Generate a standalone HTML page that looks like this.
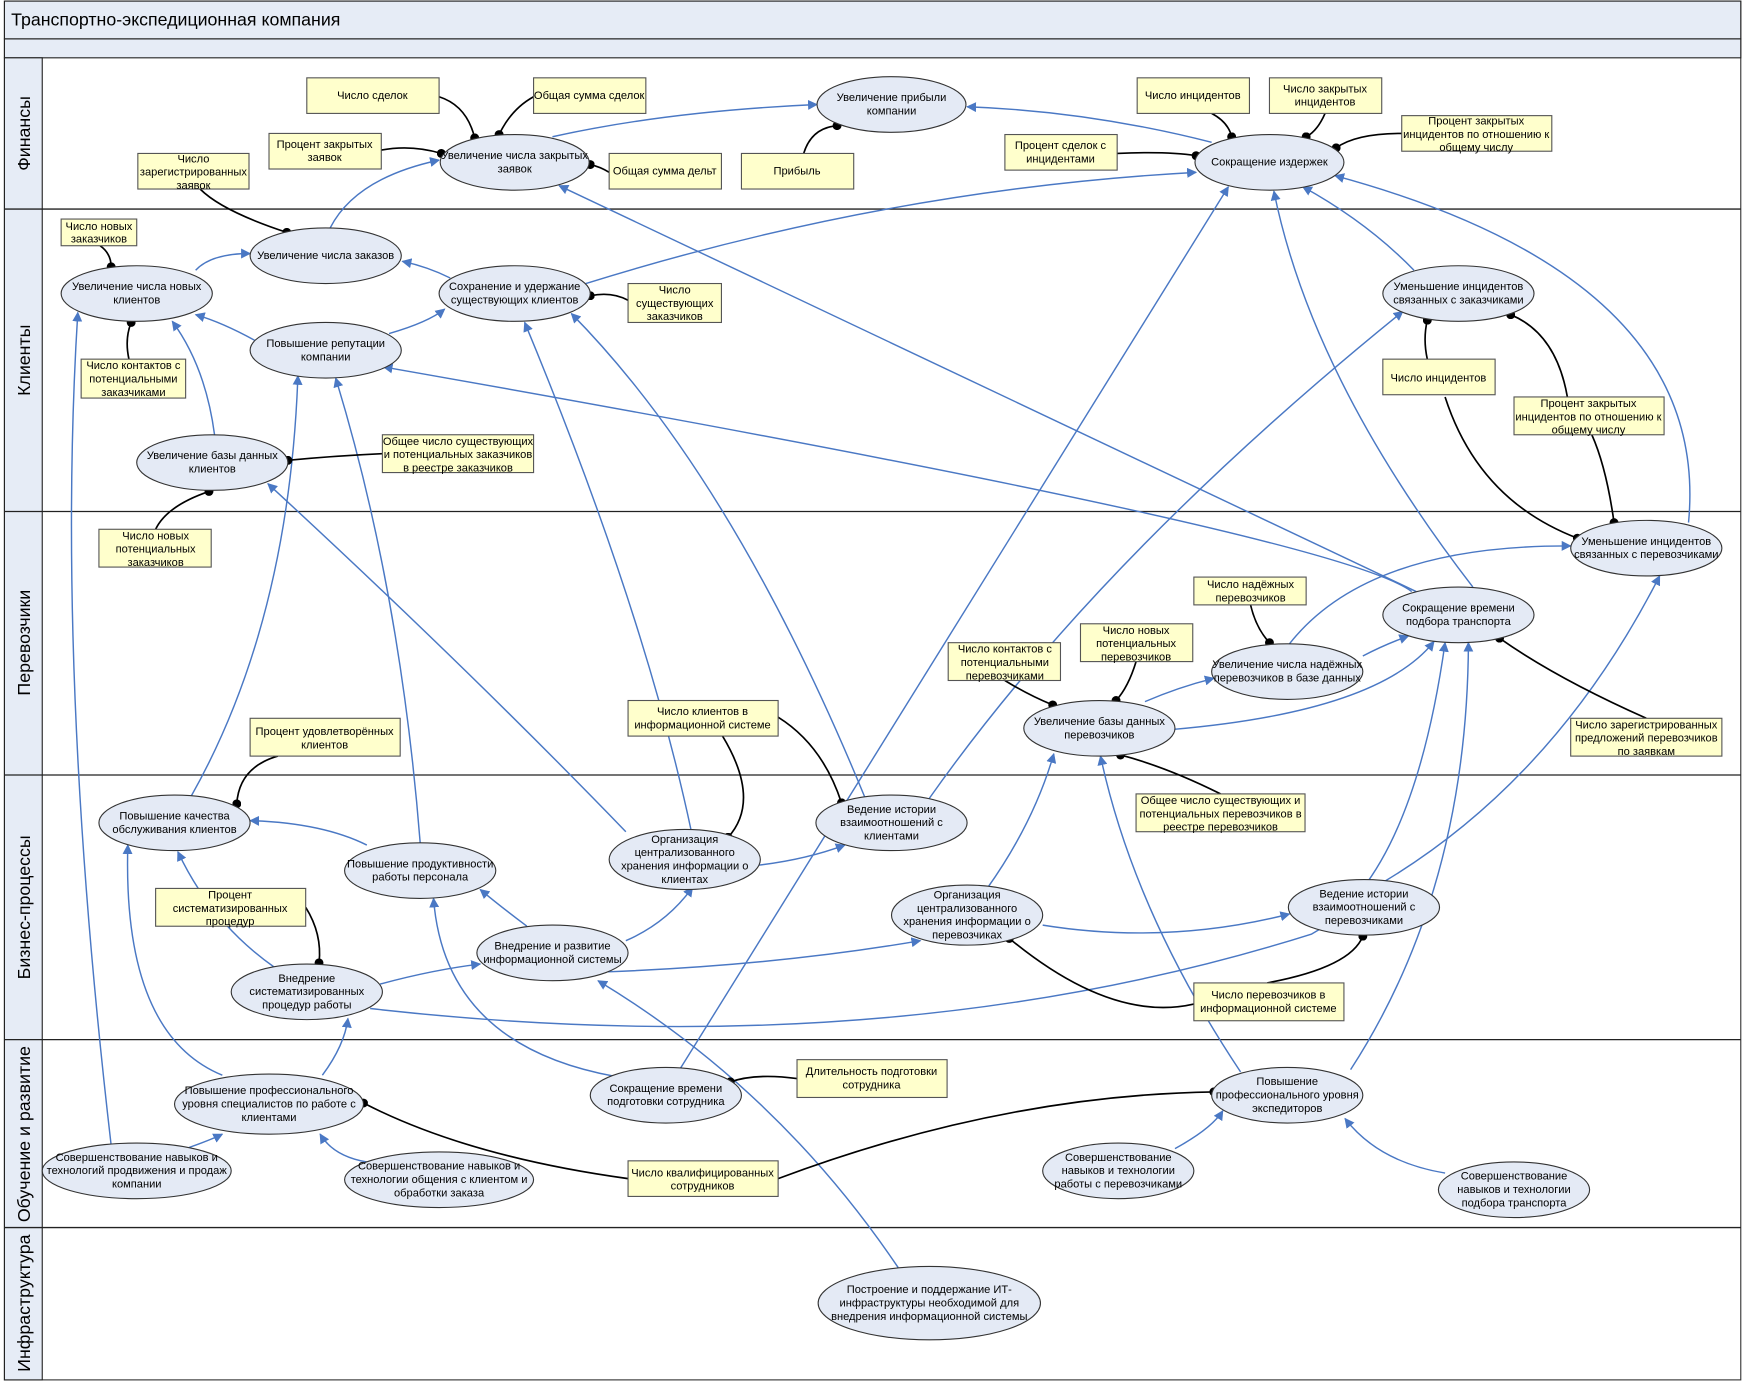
<!DOCTYPE html>
<html><head><meta charset="utf-8"><style>
html,body{margin:0;padding:0;background:#fff}
svg{display:block}
text{font-family:"Liberation Sans","DejaVu Sans",sans-serif;font-size:10px;fill:#000}
.e{fill:#e4eaf5;stroke:#333;stroke-width:1}
.b{fill:#ffffcc;stroke:#555;stroke-width:1}
.s{fill:#999}
.bl{fill:none;stroke:#4a78c4;stroke-width:1.3;marker-end:url(#ar)}
.k{fill:none;stroke:#000;stroke-width:1.5;marker-end:url(#dot)}
.ln{font-size:16px}
</style></head><body>
<svg width="1743" height="1381" viewBox="0 0 1568 1242" preserveAspectRatio="none" xmlns="http://www.w3.org/2000/svg">
<defs>
<marker id="ar" viewBox="0 0 10 10" refX="9" refY="5" markerWidth="9" markerHeight="9" markerUnits="userSpaceOnUse" orient="auto"><path d="M0,0L10,5L0,10z" fill="#4a78c4"/></marker>
<marker id="dot" viewBox="0 0 10 10" refX="5" refY="5" markerWidth="8" markerHeight="8" markerUnits="userSpaceOnUse"><circle cx="5" cy="5" r="5" fill="#000"/></marker>
</defs>
<rect x="4" y="1" width="1562" height="1240" fill="#fff" stroke="#333"/>
<rect x="4" y="1" width="1562" height="34" fill="#e6ecf6" stroke="#222"/>
<rect x="4" y="35" width="1562" height="17" fill="#e6ecf6" stroke="#222"/>
<text x="10" y="23" style="font-size:16px">Транспортно-экспедиционная компания</text>
<rect x="4" y="52" width="34" height="1189" fill="#e6ecf6" stroke="#222"/>
<g stroke="#222" stroke-width="1.2">
<line x1="4" y1="188" x2="1566" y2="188"/><line x1="4" y1="460" x2="1566" y2="460"/>
<line x1="4" y1="697" x2="1566" y2="697"/><line x1="4" y1="935" x2="1566" y2="935"/>
<line x1="4" y1="1104" x2="1566" y2="1104"/></g>
<g class="ln">
<text transform="translate(27,120) rotate(-90)" text-anchor="middle" style="font-size:16px">Финансы</text>
<text transform="translate(27,324) rotate(-90)" text-anchor="middle" style="font-size:16px">Клиенты</text>
<text transform="translate(27,578) rotate(-90)" text-anchor="middle" style="font-size:16px">Перевозчики</text>
<text transform="translate(27,816) rotate(-90)" text-anchor="middle" style="font-size:16px">Бизнес-процессы</text>
<text transform="translate(27,1020) rotate(-90)" text-anchor="middle" style="font-size:16px">Обучение и развитие</text>
<text transform="translate(27,1172) rotate(-90)" text-anchor="middle" style="font-size:16px">Инфраструктура</text>
</g>

<!-- blue arrows -->
<g>
<path class="bl" d="M297,205 Q320,160 395,144"/>
<path class="bl" d="M497,123 Q600,100 735,94"/>
<path class="bl" d="M176,243 Q190,228 225,228"/>
<path class="bl" d="M405,250 Q385,240 362,235"/>
<path class="bl" d="M229,306 Q200,290 176,283"/>
<path class="bl" d="M350,300 Q385,290 400,278"/>
<path class="bl" d="M193,391 Q185,330 155,289"/>
<path class="bl" d="M527,255 Q800,170 1076,155"/>
<path class="bl" d="M1090,128 Q980,100 870,96"/>
<path class="bl" d="M1274,532 L503,167"/>
<path class="bl" d="M1325,528 Q1180,340 1146,172"/>
<path class="bl" d="M1272,243 Q1230,200 1172,168"/>
<path class="bl" d="M1519,470 Q1540,250 1201,158"/>
<path class="bl" d="M1270,532 Q1200,480 345,330"/>
<path class="bl" d="M1160,579 Q1230,490 1413,491"/>
<path class="bl" d="M1226,590 Q1245,580 1267,572"/>
<path class="bl" d="M1055,656 Q1240,640 1290,577"/>
<path class="bl" d="M1030,631 Q1060,618 1092,610"/>
<path class="bl" d="M836,718 Q990,500 1262,280"/>
<path class="bl" d="M778,717 Q660,430 514,282"/>
<path class="bl" d="M622,748 Q580,550 472,290"/>
<path class="bl" d="M563,748 Q420,600 241,435"/>
<path class="bl" d="M683,778 Q725,773 760,760"/>
<path class="bl" d="M888,799 Q930,740 948,678"/>
<path class="bl" d="M938,832 Q1050,850 1160,822"/>
<path class="bl" d="M1245,793 Q1400,700 1493,518"/>
<path class="bl" d="M563,846 Q600,830 623,798"/>
<path class="bl" d="M547,874 Q700,868 828,846"/>
<path class="bl" d="M474,833 Q450,815 432,800"/>
<path class="bl" d="M342,885 Q390,872 432,867"/>
<path class="bl" d="M333,907 Q800,960 1180,840 Q1270,790 1300,578"/>
<path class="bl" d="M247,870 Q190,830 160,766"/>
<path class="bl" d="M330,760 Q290,740 225,738"/>
<path class="bl" d="M378,758 Q360,530 302,340"/>
<path class="bl" d="M172,716 Q260,560 268,338"/>
<path class="bl" d="M200,967 Q110,930 115,760"/>
<path class="bl" d="M290,967 Q310,940 313,916"/>
<path class="bl" d="M553,968 Q400,940 390,808"/>
<path class="bl" d="M612,961 L1105,168"/>
<path class="bl" d="M1116,964 Q1020,820 990,680"/>
<path class="bl" d="M1215,962 Q1320,800 1321,578"/>
<path class="bl" d="M100,1030 Q50,600 70,281"/>
<path class="bl" d="M170,1032 Q190,1025 200,1020"/>
<path class="bl" d="M330,1045 Q300,1040 288,1020"/>
<path class="bl" d="M1057,1033 Q1090,1015 1100,999"/>
<path class="bl" d="M1300,1055 Q1240,1045 1210,1006"/>
<path class="bl" d="M808,1140 Q700,980 538,882"/>
</g>

<!-- black connectors -->
<g>
<path class="k" d="M395,87 Q420,95 427,124"/>
<path class="k" d="M480,87 Q460,98 449,121"/>
<path class="k" d="M343,135 Q370,130 397,138"/>
<path class="k" d="M180,170 Q200,190 258,209"/>
<path class="k" d="M548,155 Q540,150 531,148"/>
<path class="k" d="M723,138 Q730,115 753,113"/>
<path class="k" d="M1090,102 Q1105,110 1108,123"/>
<path class="k" d="M1192,102 Q1185,118 1175,123"/>
<path class="k" d="M1261,120 Q1220,120 1202,133"/>
<path class="k" d="M1005,138 Q1050,136 1076,140"/>
<path class="k" d="M90,221 Q100,228 100,240"/>
<path class="k" d="M565,270 Q550,262 531,266"/>
<path class="k" d="M116,323 Q112,305 118,290"/>
<path class="k" d="M344,408 Q300,410 259,414"/>
<path class="k" d="M140,476 Q150,455 188,442"/>
<path class="k" d="M1284,323 Q1280,305 1284,288"/>
<path class="k" d="M1300,357 Q1330,450 1419,484"/>
<path class="k" d="M1410,357 Q1400,300 1359,283"/>
<path class="k" d="M1432,391 Q1445,420 1452,470"/>
<path class="k" d="M1125,544 Q1130,565 1142,578"/>
<path class="k" d="M1022,595 Q1015,618 1004,630"/>
<path class="k" d="M904,612 Q925,625 947,634"/>
<path class="k" d="M1481,646 Q1400,610 1349,574"/>
<path class="k" d="M1098,714 Q1050,690 1008,679"/>
<path class="k" d="M650,662 Q685,720 655,753"/>
<path class="k" d="M700,645 Q740,670 757,722"/>
<path class="k" d="M250,680 Q215,690 213,723"/>
<path class="k" d="M275,816 Q290,840 287,866"/>
<path class="k" d="M1074,903 Q1000,920 908,844"/>
<path class="k" d="M1140,884 Q1215,870 1226,842"/>
<path class="k" d="M717,970 Q680,965 657,973"/>
<path class="k" d="M565,1060 Q420,1040 327,992"/>
<path class="k" d="M700,1060 Q900,985 1092,982"/>
</g>

<!-- ellipses -->
<g>
<ellipse class="e" cx="463" cy="146" rx="67" ry="25"/>
<ellipse class="e" cx="802" cy="94" rx="67" ry="25"/>
<ellipse class="e" cx="1142" cy="146" rx="67" ry="25"/>
<ellipse class="e" cx="293" cy="230" rx="68" ry="25"/>
<ellipse class="e" cx="123" cy="264" rx="68" ry="25"/>
<ellipse class="e" cx="463" cy="264" rx="68" ry="25"/>
<ellipse class="e" cx="293" cy="315" rx="68" ry="25"/>
<ellipse class="e" cx="191" cy="416" rx="68" ry="25"/>
<ellipse class="e" cx="1312" cy="264" rx="68" ry="25"/>
<ellipse class="e" cx="1481" cy="493" rx="68" ry="25"/>
<ellipse class="e" cx="1312" cy="553" rx="68" ry="25"/>
<ellipse class="e" cx="1158" cy="604" rx="68" ry="25"/>
<ellipse class="e" cx="989" cy="655" rx="68" ry="25"/>
<ellipse class="e" cx="157" cy="740" rx="68" ry="25"/>
<ellipse class="e" cx="378" cy="783" rx="68" ry="25"/>
<ellipse class="e" cx="616" cy="773" rx="68" ry="27"/>
<ellipse class="e" cx="802" cy="740" rx="68" ry="25"/>
<ellipse class="e" cx="870" cy="823" rx="68" ry="27"/>
<ellipse class="e" cx="1227" cy="816" rx="68" ry="25"/>
<ellipse class="e" cx="497" cy="857" rx="68" ry="25"/>
<ellipse class="e" cx="276" cy="892" rx="68" ry="25"/>
<ellipse class="e" cx="242" cy="993" rx="85" ry="27"/>
<ellipse class="e" cx="599" cy="985" rx="68" ry="25"/>
<ellipse class="e" cx="1158" cy="985" rx="68" ry="25"/>
<ellipse class="e" cx="123" cy="1053" rx="85" ry="25"/>
<ellipse class="e" cx="395" cy="1061" rx="85" ry="25"/>
<ellipse class="e" cx="1006" cy="1053" rx="68" ry="25"/>
<ellipse class="e" cx="1362" cy="1070" rx="68" ry="25"/>
<ellipse class="e" cx="836" cy="1172" rx="100" ry="33"/>
</g>
<g text-anchor="middle">
<text x="463" y="143">Увеличение числа закрытых<tspan x="463" dy="12">заявок</tspan></text>
<text x="802" y="91">Увеличение  прибыли<tspan x="802" dy="12">компании</tspan></text>
<text x="1142" y="149">Сокращение издержек</text>
<text x="293" y="233">Увеличение числа заказов</text>
<text x="123" y="261">Увеличение числа новых<tspan x="123" dy="12">клиентов</tspan></text>
<text x="463" y="261">Сохранение и удержание<tspan x="463" dy="12">существующих клиентов</tspan></text>
<text x="293" y="312">Повышение репутации<tspan x="293" dy="12">компании</tspan></text>
<text x="191" y="413">Увеличение базы данных<tspan x="191" dy="12">клиентов</tspan></text>
<text x="1312" y="261">Уменьшение инцидентов<tspan x="1312" dy="12">связанных с заказчиками</tspan></text>
<text x="1481" y="490">Уменьшение инцидентов<tspan x="1481" dy="12">связанных с перевозчиками</tspan></text>
<text x="1312" y="550">Сокращение времени<tspan x="1312" dy="12">подбора транспорта</tspan></text>
<text x="1158" y="601">Увеличение числа надёжных<tspan x="1158" dy="12">перевозчиков в базе данных</tspan></text>
<text x="989" y="652">Увеличение базы данных<tspan x="989" dy="12">перевозчиков</tspan></text>
<text x="157" y="737">Повышение качества<tspan x="157" dy="12">обслуживания клиентов</tspan></text>
<text x="378" y="780">Повышение продуктивности<tspan x="378" dy="12">работы персонала</tspan></text>
<text x="616" y="758">Организация<tspan x="616" dy="12">централизованного</tspan><tspan x="616" dy="12">хранения информации о</tspan><tspan x="616" dy="12">клиентах</tspan></text>
<text x="802" y="731">Ведение истории<tspan x="802" dy="12">взаимоотношений с</tspan><tspan x="802" dy="12">клиентами</tspan></text>
<text x="870" y="808">Организация<tspan x="870" dy="12">централизованного</tspan><tspan x="870" dy="12">хранения информации о</tspan><tspan x="870" dy="12">перевозчиках</tspan></text>
<text x="1227" y="807">Ведение истории<tspan x="1227" dy="12">взаимоотношений с</tspan><tspan x="1227" dy="12">перевозчиками</tspan></text>
<text x="497" y="854">Внедрение и развитие<tspan x="497" dy="12">информационной системы</tspan></text>
<text x="276" y="883">Внедрение<tspan x="276" dy="12">систематизированных</tspan><tspan x="276" dy="12">процедур работы</tspan></text>
<text x="242" y="984">Повышение профессионального<tspan x="242" dy="12">уровня специалистов по работе с</tspan><tspan x="242" dy="12">клиентами</tspan></text>
<text x="599" y="982">Сокращение времени<tspan x="599" dy="12">подготовки сотрудника</tspan></text>
<text x="1158" y="976">Повышение<tspan x="1158" dy="12">профессионального уровня</tspan><tspan x="1158" dy="12">экспедиторов</tspan></text>
<text x="123" y="1044">Совершенствование навыков и<tspan x="123" dy="12">технологий продвижения и продаж</tspan><tspan x="123" dy="12">компании</tspan></text>
<text x="395" y="1052">Совершенствование навыков и<tspan x="395" dy="12">технологии общения с клиентом и</tspan><tspan x="395" dy="12">обработки заказа</tspan></text>
<text x="1006" y="1044">Совершенствование<tspan x="1006" dy="12">навыков и технологии</tspan><tspan x="1006" dy="12">работы с перевозчиками</tspan></text>
<text x="1362" y="1061">Совершенствование<tspan x="1362" dy="12">навыков и технологии</tspan><tspan x="1362" dy="12">подбора транспорта</tspan></text>
<text x="836" y="1163">Построение и поддержание ИТ-<tspan x="836" dy="12">инфраструктуры необходимой для</tspan><tspan x="836" dy="12">внедрения информационной системы</tspan></text>
</g>

<!-- boxes -->
<g>
<rect class="b" x="276" y="70" width="119" height="32"/>
<rect class="b" x="480" y="70" width="101" height="32"/>
<rect class="b" x="242" y="120" width="101" height="32"/>
<rect class="b" x="124" y="138" width="100" height="32"/>
<rect class="b" x="548" y="138" width="101" height="32"/>
<rect class="b" x="667" y="138" width="101" height="32"/>
<rect class="b" x="1023" y="70" width="101" height="32"/>
<rect class="b" x="1142" y="70" width="101" height="32"/>
<rect class="b" x="1261" y="104" width="135" height="32"/>
<rect class="b" x="904" y="121" width="101" height="32"/>
<rect class="b" x="55" y="197" width="68" height="24"/>
<rect class="b" x="565" y="255" width="84" height="35"/>
<rect class="b" x="73" y="323" width="94" height="35"/>
<rect class="b" x="1244" y="323" width="101" height="32"/>
<rect class="b" x="1362" y="357" width="135" height="34"/>
<rect class="b" x="344" y="391" width="136" height="34"/>
<rect class="b" x="89" y="476" width="101" height="34"/>
<rect class="b" x="1074" y="519" width="101" height="25"/>
<rect class="b" x="972" y="561" width="101" height="34"/>
<rect class="b" x="853" y="578" width="101" height="34"/>
<rect class="b" x="1413" y="646" width="136" height="34"/>
<rect class="b" x="565" y="630" width="135" height="32"/>
<rect class="b" x="225" y="646" width="135" height="34"/>
<rect class="b" x="1022" y="714" width="152" height="34"/>
<rect class="b" x="140" y="799" width="135" height="34"/>
<rect class="b" x="1074" y="884" width="135" height="34"/>
<rect class="b" x="717" y="953" width="135" height="34"/>
<rect class="b" x="565" y="1044" width="135" height="32"/>
</g>
<g text-anchor="middle">
<text x="335" y="89">Число сделок</text>
<text x="530" y="89">Общая сумма сделок</text>
<text x="292" y="133">Процент закрытых<tspan x="292" dy="12">заявок</tspan></text>
<text x="174" y="146">Число<tspan x="174" dy="12">зарегистрированных</tspan><tspan x="174" dy="12">заявок</tspan></text>
<text x="598" y="157">Общая сумма дельт</text>
<text x="717" y="157">Прибыль</text>
<text x="1073" y="89">Число инцидентов</text>
<text x="1192" y="83">Число закрытых<tspan x="1192" dy="12">инцидентов</tspan></text>
<text x="1328" y="112">Процент закрытых<tspan x="1328" dy="12">инцидентов по отношению к</tspan><tspan x="1328" dy="12">общему числу</tspan></text>
<text x="954" y="134">Процент сделок с<tspan x="954" dy="12">инцидентами</tspan></text>
<text x="89" y="207">Число новых<tspan x="89" dy="11">заказчиков</tspan></text>
<text x="607" y="264">Число<tspan x="607" dy="12">существующих</tspan><tspan x="607" dy="12">заказчиков</tspan></text>
<text x="120" y="332">Число контактов с<tspan x="120" dy="12">потенциальными</tspan><tspan x="120" dy="12">заказчиками</tspan></text>
<text x="1294" y="343">Число инцидентов</text>
<text x="1429" y="366">Процент закрытых<tspan x="1429" dy="12">инцидентов по отношению к</tspan><tspan x="1429" dy="12">общему числу</tspan></text>
<text x="412" y="400">Общее число существующих<tspan x="412" dy="12">и потенциальных заказчиков</tspan><tspan x="412" dy="12">в реестре заказчиков</tspan></text>
<text x="140" y="485">Число новых<tspan x="140" dy="12">потенциальных</tspan><tspan x="140" dy="12">заказчиков</tspan></text>
<text x="1125" y="529">Число надёжных<tspan x="1125" dy="12">перевозчиков</tspan></text>
<text x="1022" y="570">Число новых<tspan x="1022" dy="12">потенциальных</tspan><tspan x="1022" dy="12">перевозчиков</tspan></text>
<text x="904" y="587">Число контактов с<tspan x="904" dy="12">потенциальными</tspan><tspan x="904" dy="12">перевозчиками</tspan></text>
<text x="1481" y="655">Число зарегистрированных<tspan x="1481" dy="12">предложений перевозчиков</tspan><tspan x="1481" dy="12">по заявкам</tspan></text>
<text x="632" y="643">Число клиентов в<tspan x="632" dy="12">информационной системе</tspan></text>
<text x="292" y="661">Процент удовлетворённых<tspan x="292" dy="12">клиентов</tspan></text>
<text x="1098" y="723">Общее число существующих и<tspan x="1098" dy="12">потенциальных перевозчиков в</tspan><tspan x="1098" dy="12">реестре перевозчиков</tspan></text>
<text x="207" y="808">Процент<tspan x="207" dy="12">систематизированных</tspan><tspan x="207" dy="12">процедур</tspan></text>
<text x="1141" y="898">Число перевозчиков в<tspan x="1141" dy="12">информационной системе</tspan></text>
<text x="784" y="967">Длительность подготовки<tspan x="784" dy="12">сотрудника</tspan></text>
<text x="632" y="1058">Число квалифицированных<tspan x="632" dy="12">сотрудников</tspan></text>
</g>
</svg>
</body></html>
